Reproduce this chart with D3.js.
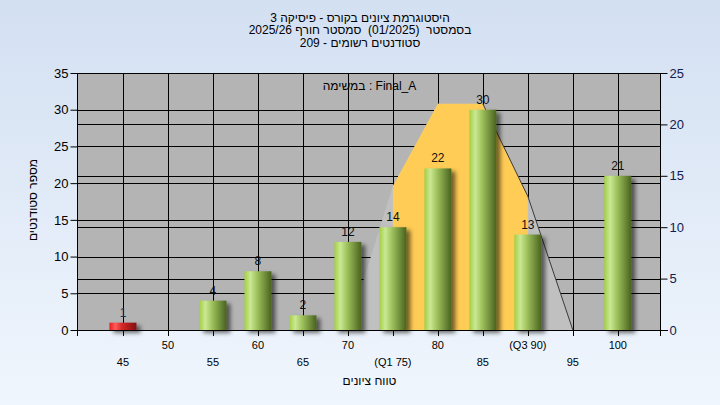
<!DOCTYPE html>
<html><head><meta charset="utf-8">
<script src="https://cdn.jsdelivr.net/npm/d3@7"></script>
<style>body{margin:0;} svg{display:block;font-family:"Liberation Sans",Arial,sans-serif;} text{white-space:pre;}</style>
</head><body><svg id="c" width="720" height="405"></svg>
<script>
const grades = [45,50,55,60,65,70,75,80,85,90,95,100];
const counts = [1,0,4,8,2,12,14,22,30,13,0,21];
const tickLabels = ["45","50","55","60","65","70","(Q1 75)","80","85","(Q3 90)","95","100"];
const curveGrades = [70,75,80,85,90,95];
const curveValues = [0,14,22,22,13,0];
const lineGrades = [85,90,95];
const lineValues = [22,13,0];
const q1 = 75, q3 = 90;
const leftTicks = [0,5,10,15,20,25,30,35];
const rightTicks = [0,5,10,15,20,25];
const titleLines = ["היסטוגרמת ציונים בקורס - פיסיקה 3","בסמסטר  (01/2025)  סמסטר חורף 2025/26","סטודנטים רשומים - 209"];
const legendText = "במשימה : Final_A";
const yTitle = "מספר סטודנטים";
const xTitle = "טווח ציונים";

const svg = d3.select("#c");
const W = 720, H = 405;
const L = 78, R = 661, T = 73, B = 330;
const x = d3.scaleLinear().domain([40,104.8]).range([L,R]);
const yL = d3.scaleLinear().domain([0,35]).range([B,T]);
const yR = d3.scaleLinear().domain([0,25]).range([B,T]);

const defs = svg.append("defs");
const bg = defs.append("linearGradient").attr("id","bg").attr("x1",0).attr("y1",0).attr("x2",0).attr("y2",1);
bg.append("stop").attr("offset","0%").attr("stop-color","#d3e0f2");
bg.append("stop").attr("offset","100%").attr("stop-color","#f0f6fd");
const gG = defs.append("linearGradient").attr("id","gG");
[["0%","#a2d042"],["22%","#cbe895"],["45%","#a2c55e"],["100%","#49621f"]].forEach(s=>gG.append("stop").attr("offset",s[0]).attr("stop-color",s[1]));
const gR = defs.append("linearGradient").attr("id","gR");
[["0%","#e81a1a"],["22%","#ff5c5c"],["45%","#d82828"],["100%","#7e1010"]].forEach(s=>gR.append("stop").attr("offset",s[0]).attr("stop-color",s[1]));
const f = defs.append("filter").attr("id","sh").attr("x","-50%").attr("y","-50%").attr("width","200%").attr("height","200%");
f.append("feDropShadow").attr("dx",4).attr("dy",3).attr("stdDeviation",2).attr("flood-color","#000").attr("flood-opacity",0.55);
defs.append("clipPath").attr("id","iqr").append("rect")
  .attr("x",x(q1)).attr("y",T).attr("width",x(q3)-x(q1)).attr("height",B-T);

svg.append("rect").attr("width",W).attr("height",H).attr("fill","url(#bg)");
svg.append("rect").attr("x",L).attr("y",T).attr("width",R-L).attr("height",B-T).attr("fill","#b4b4b4");

// gridlines
const hg = svg.append("g").attr("stroke","#000").attr("stroke-width",1).attr("shape-rendering","crispEdges");
const hy = leftTicks.map(v=>yL(v)).concat(rightTicks.map(v=>yR(v)));
hg.selectAll("line.h").data(hy).join("line").attr("x1",L).attr("x2",R).attr("y1",d=>Math.round(d)+0.5).attr("y2",d=>Math.round(d)+0.5);
hg.selectAll("line.v").data(grades).join("line").attr("class","v")
  .attr("x1",d=>Math.round(x(d))+0.5).attr("x2",d=>Math.round(x(d))+0.5).attr("y1",T).attr("y2",B+6);

// areas
const cdata = curveGrades.map((g,i)=>({g,v:curveValues[i]}));
const area = d3.area().x(d=>x(d.g)).y0(yR(0)).y1(d=>yR(d.v));
svg.append("path").attr("d",area(cdata)).attr("fill","#c0c0c0");
svg.append("path").attr("d",area(cdata)).attr("fill","#ffcc55").attr("clip-path","url(#iqr)");
const ldata = lineGrades.map((g,i)=>({g,v:lineValues[i]}));
svg.append("path").attr("d",d3.line().x(d=>x(d.g)).y(d=>yR(d.v))(ldata)).attr("fill","none").attr("stroke","#3a3a3a").attr("stroke-width",1);

// axes
const axes = svg.append("g").attr("stroke","#000").attr("stroke-width",1).attr("shape-rendering","crispEdges");
axes.append("line").attr("x1",L-0.5).attr("x2",L-0.5).attr("y1",T).attr("y2",B+6);
axes.append("line").attr("x1",R-0.5).attr("x2",R-0.5).attr("y1",T).attr("y2",B+6);
axes.append("line").attr("x1",L).attr("x2",R).attr("y1",T+0.5).attr("y2",T+0.5);
axes.append("line").attr("x1",L-7).attr("x2",R+7).attr("y1",B+0.5).attr("y2",B+0.5);

// bars
const bw = x(43) - x(40);
const bdata = grades.map((g,i)=>({g,c:counts[i],i})).filter(d=>d.c>0);
svg.append("g").attr("filter","url(#sh)").selectAll("rect").data(bdata).join("rect")
  .attr("x",d=>x(d.g)-bw/2).attr("width",bw)
  .attr("y",d=>yL(d.c)).attr("height",d=>yL(0)-yL(d.c))
  .attr("fill",d=>d.i===0?"url(#gR)":"url(#gG)");
svg.append("g").selectAll("text").data(bdata).join("text")
  .attr("x",d=>x(d.g)).attr("y",d=>yL(d.c)-6).attr("text-anchor","middle")
  .attr("font-size",12).attr("fill",d=>d.i===0?"#1a3060":"#111").text(d=>d.c);

// left axis
const la = svg.append("g").attr("transform",`translate(${L-0.5},0)`)
  .call(d3.axisLeft(yL).tickValues(leftTicks).tickSize(7).tickPadding(2));
la.select(".domain").remove();
la.selectAll("text").attr("font-size",13).attr("fill","#000").attr("font-family","Liberation Sans, Arial, sans-serif");
la.selectAll("line").attr("stroke","#000");
const ra = svg.append("g").attr("transform",`translate(${R-0.5},0)`)
  .call(d3.axisRight(yR).tickValues(rightTicks).tickSize(7).tickPadding(2));
ra.select(".domain").remove();
ra.selectAll("text").attr("font-size",13).attr("fill","#102050").attr("font-family","Liberation Sans, Arial, sans-serif");
ra.selectAll("line").attr("stroke","#000");

// x labels
svg.append("g").selectAll("text").data(grades).join("text")
  .attr("x",d=>x(d)).attr("y",(d,i)=>i%2===1?349:366).attr("text-anchor","middle")
  .attr("font-size",11).attr("fill","#000").text((d,i)=>tickLabels[i]);

// titles
svg.append("g").selectAll("text").data(titleLines).join("text")
  .attr("x",360).attr("y",(d,i)=>21.5+i*12.8).attr("text-anchor","middle")
  .attr("font-size",12).attr("fill","#000").text(d=>d);
svg.append("text").attr("x",(L+R)/2).attr("y",90).attr("text-anchor","middle").attr("font-size",12).attr("fill","#000").text(legendText);
svg.append("text").attr("x",(L+R)/2).attr("y",385).attr("text-anchor","middle").attr("font-size",12).attr("fill","#000").text(xTitle);
svg.append("text").attr("transform","translate(37,200) rotate(-90)").attr("text-anchor","middle").attr("font-size",12).attr("fill","#000").text(yTitle);
</script></body></html>
